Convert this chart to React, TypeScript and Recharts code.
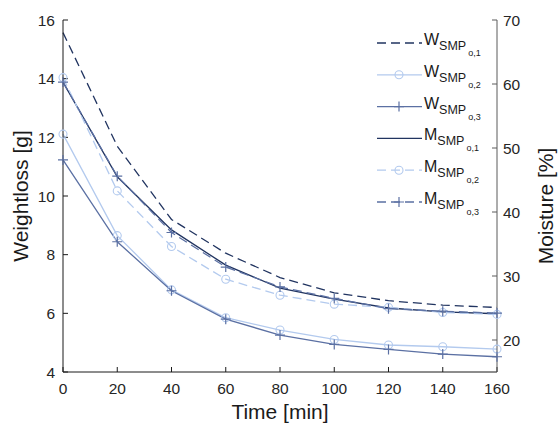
import { LineChart, Line, XAxis, YAxis, Legend } from 'recharts';

// Time axis (minutes)
const times = [0, 20, 40, 60, 80, 100, 120, 140, 160];
const timeTicks = [0, 20, 40, 60, 80, 100, 120, 140, 160];
const weightTicks = [4, 6, 8, 10, 12, 14, 16];
const moistureTicks = [20, 30, 40, 50, 60, 70];

// Weight loss [g] - left axis
const weightSmp1 = [15.57, 11.7, 9.2, 8.05, 7.22, 6.7, 6.43, 6.28, 6.2];
const weightSmp2 = [12.11, 8.65, 6.8, 5.85, 5.43, 5.11, 4.92, 4.86, 4.78];
const weightSmp3 = [11.23, 8.44, 6.77, 5.8, 5.26, 4.94, 4.77, 4.61, 4.52];

// Moisture [%] - right axis
const moistureSmp1 = [60.3, 45.5, 37.2, 31.7, 28.1, 26.4, 25.0, 24.4, 24.1];
const moistureSmp2 = [61.0, 43.3, 34.6, 29.5, 27.0, 25.6, 25.1, 24.3, 24.0];
const moistureSmp3 = [60.3, 45.6, 36.8, 31.4, 28.3, 26.5, 24.9, 24.5, 24.2];

const chartData = times.map((t, i) => ({
  time: t,
  w1: weightSmp1[i],
  w2: weightSmp2[i],
  w3: weightSmp3[i],
  m1: moistureSmp1[i],
  m2: moistureSmp2[i],
  m3: moistureSmp3[i],
}));

const DARK = '#213460';
const MID = '#5b70a3';
const LIGHT = '#b3caee';
const FONT = '"Liberation Sans", Arial, sans-serif';
const DASH = '9 5';

type Marker = 'none' | 'circle' | 'plus';

const seriesList: {
  key: string; axis: string; letter: string; sub: string;
  color: string; dash?: string; marker: Marker;
}[] = [
  { key: 'w1', axis: 'w', letter: 'W', sub: 'o,1', color: DARK, dash: DASH, marker: 'none' },
  { key: 'w2', axis: 'w', letter: 'W', sub: 'o,2', color: LIGHT, marker: 'circle' },
  { key: 'w3', axis: 'w', letter: 'W', sub: 'o,3', color: MID, marker: 'plus' },
  { key: 'm1', axis: 'm', letter: 'M', sub: 'o,1', color: DARK, marker: 'none' },
  { key: 'm2', axis: 'm', letter: 'M', sub: 'o,2', color: LIGHT, dash: DASH, marker: 'circle' },
  { key: 'm3', axis: 'm', letter: 'M', sub: 'o,3', color: MID, dash: DASH, marker: 'plus' },
];

const markerShape = (marker: Marker, color: string, cx: number, cy: number, key?: string) => {
  if (marker === 'circle') {
    return <circle key={key} cx={cx} cy={cy} r={4} fill="none" stroke={color} strokeWidth={1.1} />;
  }
  if (marker === 'plus') {
    return (
      <path
        key={key}
        d={`M${cx - 5},${cy}H${cx + 5}M${cx},${cy - 5}V${cy + 5}`}
        stroke={color}
        strokeWidth={1.2}
        fill="none"
      />
    );
  }
  return <g key={key} />;
};

const dotRenderer = (marker: Marker, color: string) => (props: any) => {
  const { cx, cy, index } = props;
  if (cx == null || cy == null) return <g key={`e${index}`} />;
  return markerShape(marker, color, cx, cy, `d${index}`);
};

// Axis title drawn relative to the axis box
const AxisTitle = ({ viewBox, value, dx = 0, dy = 0, vertical = false }: any) => {
  if (!viewBox) return null;
  const { x, y, width, height } = viewBox;
  const cx = vertical ? x + dx : x + width / 2 + dx;
  const cy = vertical ? y + height / 2 + dy : y + dy;
  return (
    <text
      x={cx}
      y={cy}
      textAnchor="middle"
      fontSize={21}
      fontFamily={FONT}
      fill="#1a1a1a"
      transform={vertical ? `rotate(-90 ${cx} ${cy})` : undefined}
    >
      {value}
    </text>
  );
};

const LegendBox = () => (
  <svg width={140} height={200} style={{ overflow: 'visible' }}>
    {seriesList.map((s, i) => {
      const y = 15 + i * 31.8;
      return (
        <g key={s.key}>
          <line x1={0} x2={45} y1={y} y2={y} stroke={s.color} strokeWidth={1.3} strokeDasharray={s.dash} />
          {markerShape(s.marker, s.color, 22, y)}
          <text x={47} y={y + 2} fontFamily={FONT} fontSize={16} fill="#1a1a1a">
            {s.letter}
            <tspan fontSize={12.5} dy={5}>SMP</tspan>
            <tspan fontSize={9} dy={6} dx={2}>{s.sub}</tspan>
          </text>
        </g>
      );
    })}
  </svg>
);

export default function App() {
  return (
    <div style={{ position: 'absolute', left: 0, top: 0, width: 558, height: 425, background: '#fff' }}>
      <LineChart
        width={558}
        height={425}
        data={chartData}
        margin={{ top: 20, right: 0, bottom: 0, left: 0 }}
        style={{ fontFamily: FONT }}
      >
        <XAxis
          dataKey="time"
          type="number"
          domain={[0, 160]}
          ticks={timeTicks}
          height={53}
          axisLine={{ stroke: '#1a1a1a' }}
          tickLine={{ stroke: '#1a1a1a' }}
          tickSize={-5}
          tickMargin={16}
          tick={{ fill: '#262626', fontSize: 15.5 }}
          label={<AxisTitle value="Time [min]" dy={47} />}
        />
        <YAxis
          yAxisId="w"
          orientation="left"
          width={63}
          domain={[4, 16]}
          ticks={weightTicks}
          axisLine={{ stroke: '#1a1a1a' }}
          tickLine={{ stroke: '#1a1a1a' }}
          tickSize={-5}
          tickMargin={13}
          tick={{ fill: '#262626', fontSize: 15.5 }}
          label={<AxisTitle value="Weightloss [g]" vertical dx={28} />}
        />
        <YAxis
          yAxisId="m"
          orientation="right"
          width={61}
          domain={[15, 70]}
          ticks={moistureTicks}
          axisLine={{ stroke: '#5a5a5a' }}
          tickLine={{ stroke: '#5a5a5a' }}
          tickSize={-5}
          tickMargin={11}
          tick={{ fill: '#262626', fontSize: 15.5 }}
          label={<AxisTitle value="Moisture [%]" vertical dx={56} dy={10} />}
        />
        {seriesList.map((s) => (
          <Line
            key={s.key}
            yAxisId={s.axis}
            dataKey={s.key}
            type="linear"
            stroke={s.color}
            strokeWidth={1.3}
            strokeDasharray={s.dash}
            dot={s.marker === 'none' ? false : dotRenderer(s.marker, s.color)}
            activeDot={false}
            isAnimationActive={false}
          />
        ))}
        <Legend
          layout="vertical"
          align="center"
          verticalAlign="middle"
          content={<LegendBox />}
          wrapperStyle={{ position: 'absolute', left: 377, top: 28, width: 140, height: 200 }}
        />
      </LineChart>
    </div>
  );
}
